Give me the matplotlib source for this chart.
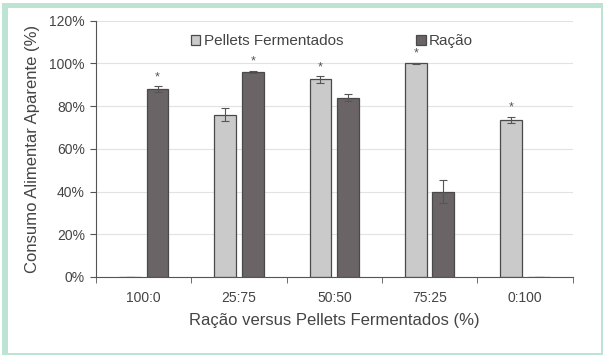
import matplotlib.pyplot as plt
import numpy as np
from matplotlib.patches import Rectangle
from matplotlib.ticker import PercentFormatter

plt.rcParams['font.family'] = ['Liberation Sans', 'DejaVu Sans']

categories = ['100:0', '25:75', '50:50', '75:25', '0:100']
pellets = [0, 76, 92.5, 100, 73.5]
pellets_err = [0, 3, 1.5, 0.3, 1.5]
racao = [88, 96, 84, 40, 0]
racao_err = [1.2, 0.5, 1.5, 5.5, 0]
pellets_star = [False, False, True, True, True]
racao_star = [True, True, False, False, False]


def frame_strip(fig, x0, y0, x1, y1):
    # pixel box -> figure fraction (y from top)
    W, H = 604, 356
    fig.patches.append(Rectangle((x0 / W, 1 - y1 / H), (x1 - x0) / W, (y1 - y0) / H,
                                 transform=fig.transFigure, color='#bde3d3',
                                 linewidth=0, zorder=0))


def main():
    fig = plt.figure(figsize=(6.04, 3.56), dpi=100)
    frame_strip(fig, 2, 3, 8, 355)     # left
    frame_strip(fig, 2, 3, 603, 8)     # top
    frame_strip(fig, 601, 3, 603, 355) # right
    frame_strip(fig, 2, 353, 603, 355) # bottom
    ax = fig.add_axes([0.159, 0.222, 0.789, 0.72])

    x = np.arange(len(categories))
    w = 0.23
    gap = 0.03
    xp = x - w / 2 - gap
    xr = x + w / 2 + gap
    ax.bar(xp, pellets, w, yerr=pellets_err, color='#cacaca', edgecolor='#4a4a4a',
           linewidth=0.9, label='Pellets Fermentados',
           error_kw=dict(ecolor='#555555', elinewidth=0.8, capsize=3, capthick=0.8))
    ax.bar(xr, racao, w, yerr=racao_err, color='#6a6466', edgecolor='#4a4a4a',
           linewidth=0.9, label='Ração',
           error_kw=dict(ecolor='#555555', elinewidth=0.8, capsize=3, capthick=0.8))

    for i in range(len(categories)):
        if pellets_star[i]:
            ax.text(xp[i], pellets[i] + pellets_err[i] + 1.5, '*', ha='center',
                    va='bottom', fontsize=9, color='#555555')
        if racao_star[i]:
            ax.text(xr[i], racao[i] + racao_err[i] + 1.5, '*', ha='center',
                    va='bottom', fontsize=9, color='#555555')

    ax.set_xlim(-0.5, len(categories) - 0.5)
    ax.set_ylim(0, 120)
    ax.set_yticks(range(0, 121, 20))
    ax.yaxis.set_major_formatter(PercentFormatter(decimals=0))
    ax.set_xticks(x)
    ax.set_xticklabels(categories)
    ax.set_xticks(np.arange(-0.5, len(categories), 1), minor=True)
    ax.tick_params(axis='x', which='major', length=0, pad=10)
    ax.tick_params(axis='x', which='minor', length=4, direction='out', color='#555555')
    ax.tick_params(axis='y', length=4, color='#555555', pad=4)
    ax.tick_params(labelsize=10, labelcolor='#444444')

    ax.grid(axis='y', color='#e2e2e2', linewidth=0.8)
    ax.set_axisbelow(True)
    for s in ['top', 'right']:
        ax.spines[s].set_visible(False)
    for s in ['left', 'bottom']:
        ax.spines[s].set_color('#555555')

    ax.set_ylabel('Consumo Alimentar Aparente (%)', fontsize=12, color='#444444', labelpad=7)
    ax.set_xlabel('Ração versus Pellets Fermentados (%)', fontsize=12, color='#444444',
                  labelpad=6)

    ax.legend(loc='upper center', bbox_to_anchor=(0.495, 1.0), ncol=2, frameon=False,
              fontsize=11, handlelength=0.6, handleheight=0.6, handletextpad=0.2,
              columnspacing=4.8, labelcolor='#444444')

    fig.savefig('out.png', dpi=100, facecolor='white')


if __name__ == '__main__':
    main()
